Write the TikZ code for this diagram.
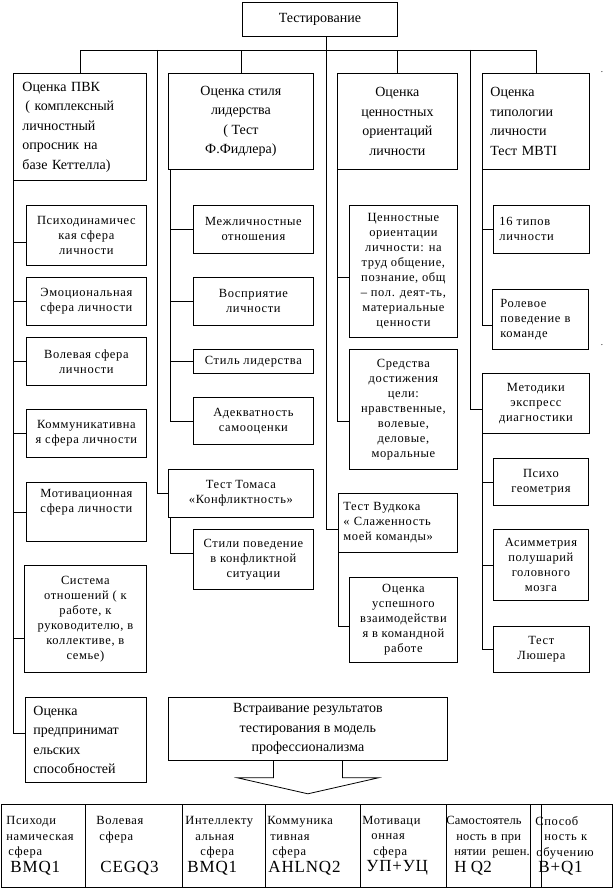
\documentclass[tikz,border=0pt]{standalone}
\usepackage{fontspec}
\setmainfont{Liberation Serif}
\newfontfamily\spacedfont[LetterSpace=5]{Liberation Serif}
\newfontfamily\tightfont[LetterSpace=1]{Liberation Serif}
\usetikzlibrary{calc}
\newcommand{\codefont}{\fontsize{17}{18}\selectfont}

\begin{document}
\begin{tikzpicture}[x=1pt, y=-1pt,
    wire/.style={line width=0.8pt, draw=black},
    blk/.style={draw, line width=0.8pt, anchor=north west, inner sep=2pt, align=center},
    head/.style={blk, font=\fontsize{14}{19.5}\selectfont},
    leaf/.style={blk, font=\spacedfont\fontsize{12.5}{15}\selectfont},
    lft/.style={align=left, inner xsep=#1, text width=\pgfkeysvalueof{/pgf/minimum width}-2*#1},
    cell/.style={blk, align=left, inner sep=0pt, minimum height=83,
                 font=\spacedfont\fontsize{12.5}{15.5}\selectfont},
  ]
  % same canvas as the scanned page
  \path[use as bounding box] (0,0) rectangle (614,890);
  % == the root and the four branches
  \node[head, minimum width=155, minimum height=34] (test) at (242,2) {Тестирование};
  \node[head, minimum width=133, minimum height=107, lft=9pt] (pvk) at (13,73)
    {Оценка ПВК\\\hspace*{3pt}( комплексный\\личностный\\опросник на\\базе Кеттелла)};
  \node[head, minimum width=145, minimum height=96] (lead) at (168,73)
    {Оценка стиля\\лидерства\\( Тест\\Ф.Фидлера)};
  \node[head, minimum width=120, minimum height=96] (value) at (337,73)
    {Оценка\\ценностных\\ориентаций\\личности};
  \node[head, minimum width=107, minimum height=96, lft=8pt] (mbti) at (482,73)
    {Оценка\\типологии\\личности\\Тест MBTI};
  \coordinate (bus) at (0,50);
  \coordinate (tapL) at (157,50);
  \coordinate (tapR) at (470,50);
  \draw[wire] (pvk.north) -- (pvk.north |- bus) -- (mbti.north |- bus) -- (mbti.north);
  \draw[wire] (lead.north) -- (lead.north |- bus);
  \draw[wire] (value.north) -- (value.north |- bus);
  \draw[wire] (test.south -| 326,0) -- (326,50);
  % == column 1: the 16PF spheres
  \node[leaf, minimum width=120, minimum height=60] (psy) at (26,205)
    {Психодинамичес\\кая сфера\\личности};
  \node[leaf, minimum width=120, minimum height=48] (emo) at (26,277)
    {Эмоциональная\\сфера личности};
  \node[leaf, minimum width=120, minimum height=48] (will) at (26,337)
    {Волевая сфера\\личности};
  \node[leaf, minimum width=120, minimum height=48] (comm) at (26,409)
    {Коммуникативна\\я сфера личности};
  \node[leaf, minimum width=120, minimum height=59] (motiv) at (26,482)
    {Мотивационная\\сфера личности\\[6pt]};
  \node[leaf, minimum width=122, minimum height=107] (rel) at (24,565)
    {Система\\отношений ( к\\работе, к\\руководителю, в\\коллективе, в\\семье)};
  \node[head, minimum width=121, minimum height=85, lft=8pt] (entr) at (25,697)
    {Оценка\\предпринимат\\ельских\\способностей};
  \foreach \n/\dy in {psy/-7, emo/0, will/0, comm/0, motiv/0, rel/-19, entr/7}
    \draw[wire] (pvk.south west) |- ([yshift=\dy pt]\n.west);
  % == column 2: leadership
  \node[leaf, minimum width=120, minimum height=48] (inter) at (193,205)
    {Межличностные\\отношения};
  \node[leaf, minimum width=120, minimum height=48] (perc) at (193,277)
    {Восприятие\\личности};
  \node[leaf, minimum width=120, minimum height=24] (lstyle) at (193,349)
    {Стиль лидерства};
  \node[leaf, minimum width=120, minimum height=47] (self) at (193,397)
    {Адекватность\\самооценки};
  \foreach \n in {inter, perc, lstyle, self}
    \draw[wire] ([xshift=2pt]lead.south west) |- (\n.west);
  \node[leaf, minimum width=145, minimum height=48] (thomas) at (168,469)
    {Тест Томаса\\«Конфликтность»};
  \node[leaf, minimum width=120, minimum height=60] (conf) at (193,529)
    {Стили поведение\\в конфликтной\\ситуации};
  \draw[wire] (tapL) |- (thomas.west);
  \draw[wire] ([xshift=2pt]thomas.south west) |- ([yshift=6pt]conf.west);
  % == column 3: values and the team
  \node[leaf, minimum width=108, minimum height=132] (orient) at (349,205)
    {Ценностные\\ориентации\\личности: на\\труд общение,\\познание, общ\\– пол. деят-ть,\\материальные\\ценности};
  \node[leaf, minimum width=108, minimum height=120] (means) at (349,349)
    {Средства\\достижения\\цели:\\нравственные,\\волевые,\\деловые,\\моральные};
  \draw[wire] (value.south west) |- ([yshift=-6pt]orient.west);
  \draw[wire] (value.south west) |- ([yshift=-12pt]means.west);
  \node[leaf, minimum width=119, minimum height=59, lft=5pt] (wood) at (338,493)
    {Тест Вудкока\\« Слаженность\\моей команды»};
  \node[leaf, minimum width=108, minimum height=85] (team) at (349,577)
    {Оценка\\успешного\\взаимодействи\\я в командной\\работе};
  \draw[wire] (326,50) |- ([yshift=-6pt]wood.west);
  \draw[wire] (wood.south west) |- ([yshift=-6pt]team.west);
  % == column 4: typology and express methods
  \node[leaf, minimum width=96, minimum height=48, lft=6pt] (types) at (493,205)
    {16 типов\\личности};
  \node[leaf, minimum width=96, minimum height=60, lft=8pt] (role) at (492,289)
    {Ролевое\\поведение в\\команде};
  \draw[wire] (mbti.south west) |- (types.west);
  \draw[wire] (mbti.south west) |- ([yshift=-6pt]role.west);
  \node[leaf, minimum width=107, minimum height=60] (method) at (482,373)
    {Методики\\экспресс\\диагностики};
  \draw[wire] (tapR) |- ([yshift=-6pt]method.west);
  \node[leaf, minimum width=95, minimum height=47] (geo) at (493,458)
    {Психо\\геометрия};
  \node[leaf, minimum width=95, minimum height=71] (asym) at (493,529)
    {Асимметрия\\полушарий\\головного\\мозга};
  \node[leaf, minimum width=96, minimum height=46] (lusch) at (493,626)
    {Тест\\Люшера};
  \foreach \n in {geo, asym, lusch}
    \draw[wire] (method.south west) |- (\n.west);
  \node[font=\small] (dotA) at (602,72) {.};
  \node[font=\small] (dotB) at (602,345) {.};
  % == integration and the block arrow
  \node[head, minimum width=279, minimum height=63] (integ) at (168,697)
    {Встраивание результатов\\тестирования в модель\\профессионализма};
  \draw[wire] ([xshift=-34.5pt]integ.south) -- ++(0,17) -- ++(-36,0) -- ++(70.5,16)
    -- ++(70.5,-16) -- ++(-36,0) -- ++(0,-17);
  % == the table of factors
  \node[cell, minimum width=84, text width=82] (c1) at (1,804)
    {\hspace*{4pt}Психоди\\\hspace*{4pt}намическая\\\hspace*{6pt}сфера\\[1pt]{\codefont\hspace*{8pt}BMQ1}};
  \node[cell, minimum width=97, text width=95] (c2) at (85,804)
    {\hspace*{10pt}Волевая\\\hspace*{13pt}сфера\\\mbox{}\\[1pt]{\codefont\hspace*{14pt}CEGQ3}};
  \node[cell, minimum width=83, text width=81] (c3) at (182,804)
    {\hspace*{2pt}Интеллекту\\\hspace*{12pt}альная\\\hspace*{17pt}сфера\\[1pt]{\codefont\hspace*{4pt}BMQ1}};
  \node[cell, minimum width=95, text width=93] (c4) at (265,804)
    {\hspace*{1pt}Коммуника\\\hspace*{4pt}тивная\\\hspace*{6pt}сфера\\[1pt]{\codefont\hspace*{2pt}AHLNQ2}};
  \node[cell, minimum width=86, text width=84] (c5) at (360,804)
    {\hspace*{1pt}Мотиваци\\\hspace*{10pt}онная\\\hspace*{12pt}сфера\\[1pt]{\codefont\hspace*{5pt}УП+УЦ}};
  \node[cell, minimum width=84, text width=95, font=\tightfont\fontsize{12.5}{15.5}\selectfont] (c6) at (446,804)
    {Самостоятель\\\hspace*{10pt}ность в при\\\hspace*{8pt}нятии\enspace решен.\\[1pt]{\codefont\hspace*{8pt}H Q2}};
  \node[cell, minimum width=82, text width=80] (c7) at (530,804)
    {\hspace*{4pt}Способ\\\hspace*{13pt}ность к\\\hspace*{5pt}обучению\\[1pt]{\codefont\hspace*{7pt}B+Q1}};
\end{tikzpicture}
\end{document}
